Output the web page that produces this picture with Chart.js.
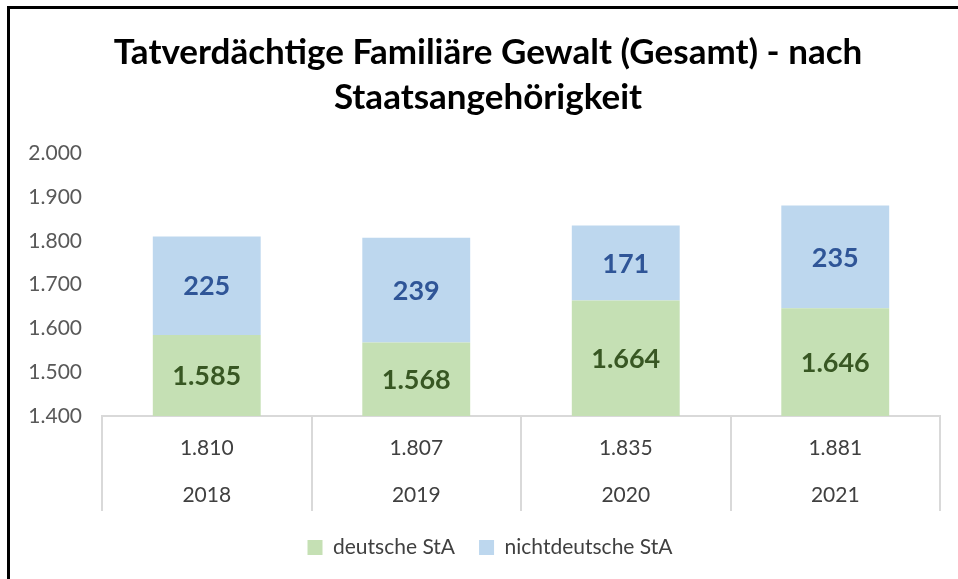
<!DOCTYPE html>
<html lang="de">
<head>
<meta charset="utf-8">
<title>Tatverdächtige Familiäre Gewalt (Gesamt) - nach Staatsangehörigkeit</title>
<script src="https://cdn.jsdelivr.net/npm/chart.js@4.4.1/dist/chart.umd.min.js"></script>
<style>
  html, body { margin: 0; padding: 0; background: #fff; }
  #wrap { position: relative; width: 958px; height: 579px; overflow: hidden; }
  #frame {
    position: absolute; left: 7px; top: 6px; right: -10px; bottom: -10px;
    border-left: 3px solid #000; border-top: 3px solid #000;
  }
  #chart { position: absolute; left: 0; top: 0; }
</style>
</head>
<body>
<div id="wrap">
  <div id="frame"></div>
  <canvas id="chart" width="958" height="579"></canvas>
</div>
<script>
// Jahre und Tatverdächtige nach Staatsangehörigkeit
const years = ['2018', '2019', '2020', '2021'];
const deutsche = [1585, 1568, 1664, 1646];
const nichtdeutsche = [225, 239, 171, 235];
const seriesNames = ['deutsche StA', 'nichtdeutsche StA'];
const titleLines = ['Tatverdächtige Familiäre Gewalt (Gesamt) - nach', 'Staatsangehörigkeit'];

const FONT = 'Lato, "Open Sans", sans-serif';

// Tausendertrennzeichen im deutschen Format
function fmt(v) {
  return String(Math.round(v)).replace(/\B(?=(\d{3})+(?!\d))/g, '.');
}

// Summen je Jahr für die Tabellenzeile unter der Achse
const totals = years.map((_, i) => deutsche[i] + nichtdeutsche[i]);

// Wertbeschriftung mittig im sichtbaren Teil jedes Balkensegments
const barValueLabels = {
  id: 'barValueLabels',
  afterDatasetsDraw(chart) {
    const { ctx, chartArea } = chart;
    ctx.save();
    ctx.textAlign = 'center';
    ctx.textBaseline = 'middle';
    ctx.font = 'bold 27px ' + FONT;
    chart.data.datasets.forEach((ds, di) => {
      const meta = chart.getDatasetMeta(di);
      meta.data.forEach((bar, i) => {
        const p = bar.getProps(['x', 'y', 'base'], true);
        const top = Math.max(Math.min(p.y, p.base), chartArea.top);
        const bottom = Math.min(Math.max(p.y, p.base), chartArea.bottom);
        ctx.fillStyle = ds.labelColor;
        ctx.fillText(fmt(ds.data[i]), p.x, (top + bottom) / 2 + 1);
      });
    });
    ctx.restore();
  }
};

// Tabelle unter der x-Achse: Summe und Jahr je Kategorie
const axisTable = {
  id: 'axisTable',
  afterDraw(chart) {
    const { ctx } = chart;
    const x = chart.scales.x;
    ctx.save();
    ctx.textAlign = 'center';
    ctx.textBaseline = 'middle';
    ctx.fillStyle = '#404040';
    ctx.font = '21px ' + FONT;
    years.forEach((yr, i) => {
      const px = x.getPixelForValue(i);
      ctx.fillText(fmt(totals[i]), px, x.top + 32);
      ctx.fillText(yr, px, x.top + 79);
    });
    ctx.restore();
  }
};

// Titel und Legende etwas nach rechts versetzen
const blockShift = {
  id: 'blockShift',
  afterLayout(chart) {
    const shift = (box, dx) => {
      if (box) { box.left += dx; box.right += dx; }
    };
    shift(chart.titleBlock, 14);
    shift(chart.legend, 16);
  }
};

new Chart(document.getElementById('chart'), {
  type: 'bar',
  data: {
    labels: years,
    datasets: [
      {
        label: seriesNames[0],
        data: deutsche,
        backgroundColor: '#c5e0b4',
        labelColor: '#385723',
        categoryPercentage: 1,
        barPercentage: 0.515
      },
      {
        label: seriesNames[1],
        data: nichtdeutsche,
        backgroundColor: '#bdd7ee',
        labelColor: '#2f5597',
        categoryPercentage: 1,
        barPercentage: 0.515
      }
    ]
  },
  options: {
    responsive: false,
    animation: false,
    layout: { padding: { left: 8, right: 18, top: 0, bottom: 11 } },
    plugins: {
      title: {
        display: true,
        text: titleLines,
        color: '#000',
        font: { family: FONT, size: 35, weight: 'bold', lineHeight: 1.29 },
        padding: { top: 30, bottom: 33 }
      },
      legend: {
        position: 'bottom',
        labels: {
          color: '#404040',
          font: { family: FONT, size: 21 },
          boxWidth: 15,
          boxHeight: 15,
          padding: 24
        }
      },
      tooltip: { enabled: false }
    },
    scales: {
      x: {
        stacked: true,
        grid: {
          display: true,
          drawOnChartArea: false,
          drawTicks: true,
          tickLength: 95,
          color: '#d9d9d9',
          lineWidth: 2
        },
        border: { display: true, color: '#d9d9d9', width: 2 },
        ticks: { display: false },
        afterFit(scale) { scale.height = 97; }
      },
      y: {
        stacked: true,
        min: 1400,
        max: 2000,
        grid: { display: false, drawTicks: false },
        border: { display: false },
        ticks: {
          stepSize: 100,
          color: '#595959',
          font: { family: FONT, size: 21 },
          padding: 20,
          callback: (v) => fmt(v)
        },
        afterFit(scale) { scale.width = 94; }
      }
    }
  },
  plugins: [barValueLabels, axisTable, blockShift]
});
</script>
</body>
</html>
